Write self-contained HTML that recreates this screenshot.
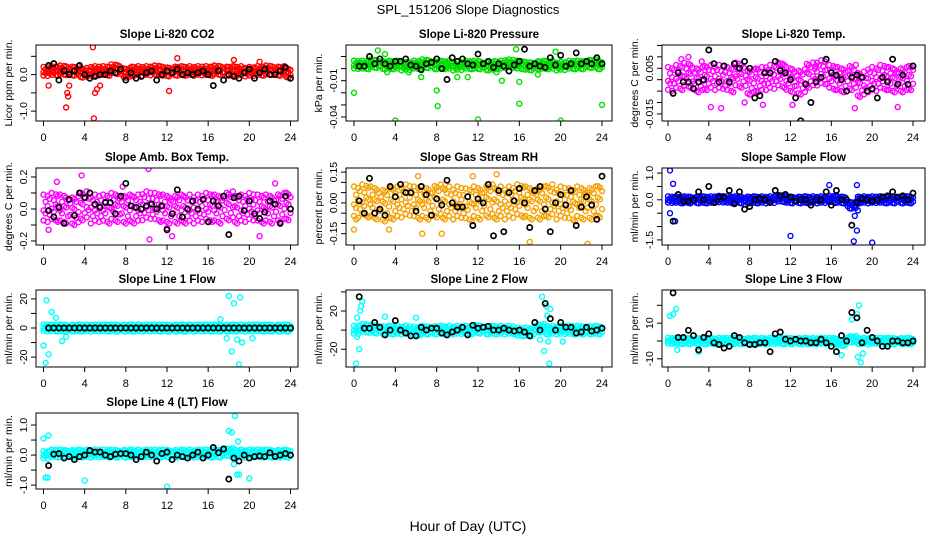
<!DOCTYPE html>
<html><head><meta charset="utf-8">
<style>
body{margin:0;background:#fff;}
svg{display:block;font-family:"Liberation Sans",Arial,sans-serif;}
</style></head>
<body>
<svg id="chart" width="936" height="540" viewBox="0 0 936 540" xmlns="http://www.w3.org/2000/svg">
<rect width="936" height="540" fill="#fff"/>
<text x="468" y="14" font-size="13" text-anchor="middle">SPL_151206  Slope Diagnostics</text>
<text x="468" y="531" font-size="14" text-anchor="middle">Hour of Day (UTC)</text>
<g id="panels"></g>
</svg>
<script>
// ---- data ----
const titles = ["Slope Li-820 CO2","Slope Li-820 Pressure","Slope Li-820 Temp.","Slope Amb. Box Temp.","Slope Gas Stream RH","Slope Sample Flow","Slope Line 1 Flow","Slope Line 2 Flow","Slope Line 3 Flow","Slope Line 4 (LT) Flow"];
const yLabels = ["Licor ppm per min.","kPa per min.","degrees C per min.","degrees C per min.","percent per min.","ml/min per min.","ml/min per min.","ml/min per min.","ml/min per min.","ml/min per min."];
const colors = ["#ff0000","#00e000","#ff00ff","#ff00ff","#f5a000","#0000ff","#00ffff","#00ffff","#00ffff","#00ffff"];
const yRanges = [[-1.27,0.81],[-0.0433,0.0195],[-0.0181,0.0152],[-0.225,0.256],[-0.205,0.17],[-1.69,1.19],[-26.8,26.1],[-38.6,42],[-14.6,28.6],[-1.13,1.4]];
const yTicks = [[-1,-0.5,0,0.5],[-0.04,-0.03,-0.02,-0.01,0,0.01],[-0.015,-0.01,-0.005,0,0.005,0.01,0.015],[-0.2,-0.1,0,0.1,0.2],[-0.15,-0.1,-0.05,0,0.05,0.1,0.15],[-1.5,-1,-0.5,0,0.5,1],[-20,-10,0,10,20],[-20,0,20,40],[-10,0,10,20],[-1,-0.5,0,0.5,1]];
const yTickLabels = [["-1.0","","0.0",""],["-0.04","","","-0.01","",""],["-0.015","","","","0.005","",""],["-0.2","","0.0","","0.2"],["-0.15","","","0.00","","","0.15"],["-1.5","","","0.0","","1.0"],["-20","","0","","20"],["-20","","20",""],["-10","","10",""],["-1.0","","0.0","","1.0"]];
const xTicks = [0,4,8,12,16,20,24];
const bandSpread = [0.13,0.0035,0.0055,0.09,0.08,0.13,2.5,4.5,1.8,0.13];
// colored series centers, hourly 0..24
const bandCenters = [
 [0.08,0.1,0.12,0.1,0.05,0.1,0.1,0.15,0.05,0.1,0.1,0.12,0.08,0.1,0.1,0.1,0.1,0.12,0.1,0.1,0.08,0.1,0.12,0.1,0.05],
 [0.003,0.003,0.004,0.003,0.003,0.002,0.003,0.004,0.003,0.003,0.002,0.003,0.003,0.002,0.003,0.004,0.003,0.002,0.003,0.003,0.002,0.003,0.003,0.004,0.003],
 [0.0,0.001,0.002,0.0,0.001,0.001,0.0,0.002,-0.001,0.0,0.001,0.002,0.0,-0.001,0.002,0.003,0.001,0.0,0.001,-0.002,0.0,0.001,0.0,0.0,0.001],
 [0.0,0.01,0.0,-0.01,0.02,0.0,0.0,0.01,0.0,0.0,0.02,0.01,0.0,0.0,0.0,0.0,0.01,0.0,0.02,0.0,0.01,0.0,0.0,0.01,0.02],
 [0.0,0.01,0.0,-0.01,0.0,0.01,0.0,0.0,0.01,0.0,0.0,-0.01,0.0,0.01,0.0,0.0,0.01,0.0,0.0,0.01,0.0,-0.01,0.0,0.0,0.01],
 [0.0,0.0,0.0,0.0,0.0,0.02,0.0,0.0,0.0,0.0,0.0,0.05,0.0,0.0,0.0,0.0,0.02,0.0,-0.2,0.0,0.0,0.0,0.0,0.0,0.0],
 [0,0,0,0,0,0,0,0,0,0,0,0,0,0,0,0,0,0,0,0,0,0,0,0,0],
 [0,2,1,0,0,0,-1,0,0,0,0,0,1,0,0,0,-2,-2,2,0,0,0,0,0,0],
 [0,0,0,0,0,0,0,0,0,0,0,0,0,0,0,0,0,-1,1,0,0,0,0,0,0],
 [0.0,0.05,0.05,0.05,0.05,0.05,0.05,0.05,0.05,0.05,0.05,0.05,0.05,0.05,0.05,0.05,0.05,0.05,0.1,0.05,0.05,0.05,0.05,0.05,0.05]
];
const outHours = [
 [0.5,2.2,2.3,2.4,2.5,4.8,4.9,5.0,5.2,5.5,12.2,13.0,18.5,21.0],
 [0,2.3,3.0,4,8,8.1,12,16,20,24,3.2,5.3,6.5,10,11,13.8,14.3,15.7,16,19.5,17.8],
 [4.2,5.2,7.5,9.3,12.2,18.3,22.5,2.0,1.3,3.3,11,14.5],
 [0.5,1.3,3.7,10.2,10.3,12.5,21.0,22.5,7.7,12],
 [0,0.2,3.4,6.6,8.5,17,22.6,11.5,6.2,13.8],
 [0.2,0.5,0.2,0.7,12,18.2,18.5,20,18.5,18.3,18.6,15.8],
 [0,0.2,0.3,0.5,0.8,1.2,1.8,2.2,18,18.3,18.5,18.8,19,19.1,19.3,17.8,17.2,20.3],
 [0.2,0.3,0.5,0.6,0.7,0.8,0.3,3,6,18.2,18.4,18.6,18.7,18.9,19,18,18.8,20.2],
 [0.2,0.5,0.8,0.9,18,18.5,18.7,18.6,18.9,19.1,3,17,16.5],
 [0,0.5,0.2,0.4,4,12,18,18.3,18.6,18.5,18.8,19,20,18.9]
];
const outValues = [
 [-0.3,-0.9,-0.5,-0.6,-0.3,0.75,-1.2,-0.5,-0.4,-0.3,-0.45,0.45,0.4,0.35],
 [-0.02,0.015,0.012,-0.043,-0.018,-0.031,-0.042,-0.029,-0.043,-0.03,-0.003,-0.003,-0.007,-0.007,-0.007,-0.003,-0.01,0.016,-0.011,0.014,-0.005],
 [-0.012,-0.0125,-0.01,-0.011,-0.011,-0.0125,-0.012,0.01,0.009,0.008,0.007,0.006],
 [-0.13,0.17,0.21,0.25,-0.19,-0.17,-0.17,0.16,0.14,-0.12],
 [-0.13,-0.08,-0.13,-0.15,-0.15,-0.19,-0.2,0.13,0.13,0.14],
 [1.1,0.6,-0.5,-0.8,-1.35,-1.55,-1.15,-1.6,0.55,-0.6,-0.4,0.55],
 [-12,-24,19,-18,11,7,-9,-6,22,-16,17,-8,-25,21,-10,-7,6,-7],
 [-35,-7,-20,20,25,30,13,14,13,35,-22,25,15,-35,22,-10,-12,-12],
 [14,15,18,-5,12,15,20,-9,-12,-7,-6,-8,-6],
 [0.55,0.65,-0.75,-0.75,-0.85,-1.05,0.8,0.75,1.3,-0.3,-0.65,-0.65,-0.78,0.45]
];
// black series, half-hourly 0.5..24
const blackValues = [
 [0.25,0.3,-0.15,0.1,0.0,0.1,0.25,0.0,-0.1,-0.05,0.0,0.0,0.1,0.05,0.15,-0.15,0.05,-0.1,-0.05,0.05,0.1,-0.15,0.0,0.1,0.05,0.15,0.0,0.05,0.0,0.05,0.1,0.0,-0.3,0.1,-0.15,0.0,-0.05,-0.1,0.05,0.15,-0.1,0.05,0.15,0.0,0.0,0.1,0.2,-0.1],
 [0.002,0.002,0.01,0.004,0.008,0.004,0.002,0.006,0.006,0.008,0.003,0.002,-0.001,0.004,0.005,0.008,0.0,-0.009,0.009,0.006,0.008,0.004,0.003,0.012,0.004,0.006,0.001,0.004,0.002,-0.002,0.003,0.006,0.016,0.002,0.004,0.002,0.001,0.009,0.003,0.011,0.002,0.004,0.013,0.004,0.006,0.004,0.009,0.004],
 [-0.006,0.003,-0.001,-0.001,-0.004,-0.001,0.0,0.013,0.007,-0.001,0.006,-0.001,0.007,0.005,0.008,0.005,-0.008,-0.007,0.003,0.003,0.008,0.004,0.003,0.0,-0.008,-0.018,-0.002,-0.01,-0.001,0.001,0.009,0.003,0.002,0.0,-0.005,0.001,0.002,0.001,-0.005,-0.004,-0.008,0.001,-0.001,0.009,-0.002,0.002,-0.002,0.006],
 [-0.01,-0.05,0.01,-0.09,0.06,-0.04,0.1,0.07,0.1,0.03,0.01,0.04,0.04,-0.03,0.08,0.16,0.02,0.01,0.0,0.02,0.03,0.0,0.02,-0.13,-0.03,0.12,-0.05,0.0,0.05,0.0,0.06,-0.08,0.05,0.02,0.08,-0.16,0.07,0.08,-0.01,0.05,-0.03,-0.06,-0.02,0.05,0.03,-0.09,0.08,0.0],
 [0.01,-0.05,0.12,-0.05,-0.03,-0.06,0.08,0.03,0.09,0.05,0.05,-0.04,0.08,0.04,-0.06,0.02,-0.01,0.11,0.0,-0.02,-0.02,0.03,-0.11,0.02,0.0,0.09,-0.16,0.06,-0.14,0.05,0.01,0.07,0.0,-0.12,0.06,0.08,-0.03,-0.14,0.0,0.04,-0.01,0.06,-0.11,-0.02,0.03,-0.01,-0.08,0.13],
 [-0.8,0.2,-0.05,-0.05,0.0,0.3,0.0,0.5,-0.1,0.1,0.1,0.35,-0.15,0.3,-0.35,-0.25,0.0,0.05,0.0,-0.1,0.35,0.15,0.2,0.1,-0.05,0.0,0.0,-0.2,0.0,0.0,0.3,-0.2,0.35,0.0,0.0,-0.95,-0.1,0.05,0.0,-0.05,0.0,0.1,0.15,0.3,0.1,0.15,0.0,0.25],
 [0,0,0,0,0,0,0,0,0,0,0,0,0,0,0,0,0,0,0,0,0,0,0,0,0,0,0,0,0,0,0,0,0,0,0,0,0,0,0,0,0,0,0,0,0,0,0,0],
 [35,2,2,8,3,-5,0,10,0,-3,-6,-6,3,0,2,2,-3,-5,-2,0,3,-5,5,2,3,4,0,0,2,0,-1,0,-2,-6,8,0,28,12,0,8,3,3,-3,-2,3,-1,0,2],
 [27,2,2,6,3,-5,2,4,-1,-2,-4,-3,3,2,-1,-2,-2,-1,-1,-6,4,5,1,0,1,0,0,-1,-1,1,-1,-3,-6,3,0,16,13,-1,6,2,0,-3,-3,0,0,-1,-1,0],
 [-0.35,0.03,0.05,-0.1,-0.05,-0.15,-0.05,0.0,0.15,0.1,0.1,0.0,-0.05,0.03,0.05,0.05,0.0,-0.15,-0.05,0.1,0.0,-0.2,0.05,0.1,-0.15,0.0,-0.05,-0.1,0.0,0.1,-0.1,0.0,0.25,0.08,0.2,-0.8,-0.1,-0.2,0.0,-0.1,-0.05,-0.03,-0.05,0.08,-0.05,0.0,0.05,0.0]
];

// ---- layout ----
const colBox = [[36,298],[346,612],[662,925]];
const colTick = [[43.5,290.5],[354,602],[668,913]];
const rowBox = [[45,121],[168,245],[290,367],[413,489]];
const NS = "http://www.w3.org/2000/svg";
const root = document.getElementById("panels");
function mk(tag, attrs, parent){const e=document.createElementNS(NS,tag);for(const k in attrs)e.setAttribute(k,attrs[k]);(parent||root).appendChild(e);return e;}

titles.forEach((title,i)=>{
  const c = i%3, r = Math.floor(i/3);
  const [bx0,bx1] = colBox[c], [by0,by1] = rowBox[r];
  const [t0,t1] = colTick[c];
  const xs = h => t0 + (t1-t0)*h/24;
  const [ymin,ymax] = yRanges[i];
  const ys = v => by1 - (v-ymin)/(ymax-ymin)*(by1-by0);
  const g = mk("g",{});
  
  
  const clipId = "clip"+i;
  const cp = mk("clipPath",{id:clipId},g); mk("rect",{x:bx0,y:by0,width:bx1-bx0,height:by1-by0},cp);
  const tt = mk("text",{x:(bx0+bx1)/2,y:by0-7,"font-size":11.5,"font-weight":"bold","text-anchor":"middle"},g);
  tt.textContent = title;
  
  
  // colored band
  const pts = mk("g",{"clip-path":"url(#"+clipId+")",fill:"none",stroke:colors[i],"stroke-width":1.4},g);
  
  
  const sp = bandSpread[i];
  const dxs = [-0.4,-0.2,0,0.2,0.4];
  const kk = [[-1,0.1,0.8],[-0.5,0.6],[-0.8,-0.1,1],[-0.3,0.5],[-0.9,0.2,0.9]];
  bandCenters[i].forEach((v,h)=>{
    dxs.forEach((dx,a)=>{
      if(h+dx<0||h+dx>24)return;
      kk[(a+h)%5].forEach(k=>{
        const cx = xs(h+dx), cy = ys(v+k*sp);
        const ci = mk("circle",{cx:cx.toFixed(1),cy:cy.toFixed(1),r:2.5},pts);
        
        
      });
    });
  });
  outHours[i].forEach((h,j)=>{
    const ci = mk("circle",{cx:xs(h).toFixed(1),cy:ys(outValues[i][j]).toFixed(1),r:2.5},pts);
    
    
  });
  const bk = mk("g",{"clip-path":"url(#"+clipId+")",fill:"none",stroke:"#000","stroke-width":1.7},g);
  
  
  blackValues[i].forEach((v,j)=>{
    const ci = mk("circle",{cx:xs(0.5+j*0.5).toFixed(1),cy:ys(v).toFixed(1),r:2.6},bk);
    
    
  });
  // box
  const bx = mk("rect",{x:bx0,y:by0,width:bx1-bx0,height:by1-by0,fill:"none",stroke:"#000","stroke-width":1},g);
  
  
  // x ticks
  xTicks.forEach(t=>{
    mk("line",{x1:xs(t),x2:xs(t),y1:by1,y2:by1+5,stroke:"#000"},g);
    const tl = mk("text",{x:xs(t),y:by1+20,"font-size":11,"text-anchor":"middle"},g);
    tl.textContent = t;
    
    
  });
  // y ticks
  yTicks[i].forEach((t,j)=>{
    const y = ys(t);
    mk("line",{x1:bx0-5,x2:bx0,y1:y,y2:y,stroke:"#000"},g);
    const lab = yTickLabels[i][j];
    if(lab){
      const tl = mk("text",{x:bx0-9,y:y,"font-size":10.5,"text-anchor":"middle",transform:"rotate(-90 "+(bx0-9)+" "+y+")"},g);
      tl.textContent = lab;
      
      
    }
  });
  const yl = mk("text",{x:bx0-24,y:(by0+by1)/2,"font-size":10.5,"text-anchor":"middle",transform:"rotate(-90 "+(bx0-24)+" "+((by0+by1)/2)+")"},g);
  yl.textContent = yLabels[i];
  
  
});
</script>
</body></html>
